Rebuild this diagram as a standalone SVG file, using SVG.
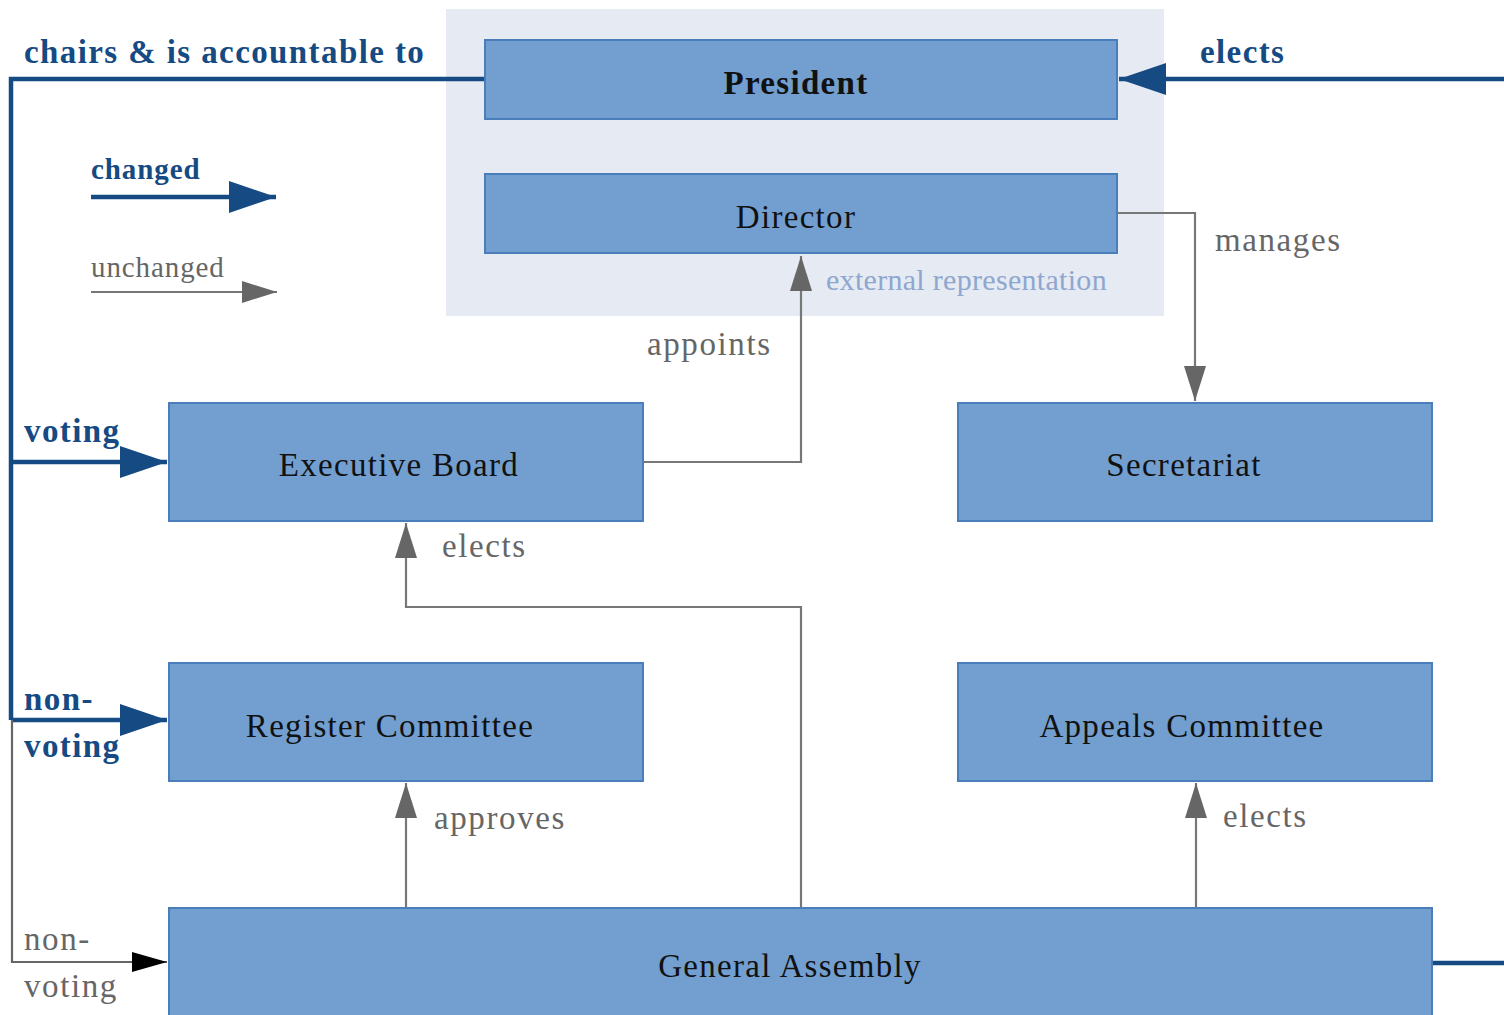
<svg xmlns="http://www.w3.org/2000/svg" width="1504" height="1015" viewBox="0 0 1504 1015">
<defs>
<marker id="ab" markerUnits="userSpaceOnUse" markerWidth="48" markerHeight="32" refX="47" refY="16" orient="auto"><path d="M0,0 L47,16 L0,32 Z" fill="#154a83"/></marker>
<marker id="ag" markerUnits="userSpaceOnUse" markerWidth="36" markerHeight="24" refX="35" refY="12" orient="auto"><path d="M0,1 L35,12 L0,23 Z" fill="#666666"/></marker>
<marker id="ak" markerUnits="userSpaceOnUse" markerWidth="36" markerHeight="24" refX="35" refY="11" orient="auto"><path d="M0,1 L35,11 L0,21 Z" fill="#000000"/></marker>
</defs>
<style>
.node{fill:#729fcf;stroke:#4a7ebb;stroke-width:2}
.nt{font-family:"Liberation Serif","Times New Roman",serif;font-size:33px;letter-spacing:1.3px;fill:#111;text-anchor:middle}
.bl{fill:none;stroke:#154a83;stroke-width:4.5}
.gl{fill:none;stroke:#777;stroke-width:2.2}
.lb{font-family:"Liberation Serif","Times New Roman",serif;font-size:33px;letter-spacing:1.4px;font-weight:bold;fill:#154a83}
.lg{font-family:"Liberation Serif","Times New Roman",serif;font-size:33px;letter-spacing:1.6px;fill:#666}
</style>
<rect width="1504" height="1015" fill="#ffffff"/>
<rect x="446" y="9" width="718" height="307" fill="#e6eaf3"/>
<g id="connectors">
<path class="bl" d="M485,79 H11 V720"/>
<path class="bl" d="M11,462 H167" marker-end="url(#ab)"/>
<path class="bl" d="M11,720 H167" marker-end="url(#ab)"/>
<path class="bl" d="M1504,79 H1119" marker-end="url(#ab)"/>
<path class="bl" d="M1432,963 H1504"/>
<path d="M12,720 V962 H167" fill="none" stroke="#666" stroke-width="2.2" marker-end="url(#ak)"/>
<path class="gl" d="M1117,213 H1195 V401" marker-end="url(#ag)"/>
<path class="gl" d="M643,462 H801 V256" marker-end="url(#ag)"/>
<path class="gl" d="M801,908 V607 H406 V523" marker-end="url(#ag)"/>
<path class="gl" d="M406,908 V783" marker-end="url(#ag)"/>
<path class="gl" d="M1196,908 V783" marker-end="url(#ag)"/>
<path class="bl" d="M91,197 H276" marker-end="url(#ab)"/>
<path class="gl" d="M91,292 H277" marker-end="url(#ag)"/>
</g>
<g id="labels">
<text class="lb" x="24" y="63">chairs &amp; is accountable to</text>
<text class="lb" x="1200" y="63">elects</text>
<text class="lb" x="91" y="179" style="font-size:29px;letter-spacing:0.9px">changed</text>
<text class="lg" x="91" y="277" style="font-size:29px;letter-spacing:0.9px">unchanged</text>
<text class="lg" x="1215" y="251">manages</text>
<text x="826" y="290" font-family="Liberation Serif, Times New Roman, serif" font-size="30" letter-spacing="0.3" fill="#8ea7cf">external representation</text>
<text class="lg" x="647" y="355">appoints</text>
<text class="lb" x="24" y="442">voting</text>
<text class="lg" x="442" y="557">elects</text>
<text class="lb" x="24" y="710">non-</text>
<text class="lb" x="24" y="757">voting</text>
<text class="lg" x="434" y="829">approves</text>
<text class="lg" x="1223" y="827">elects</text>
<text class="lg" x="24" y="950">non-</text>
<text class="lg" x="24" y="997">voting</text>
</g>
<g id="president"><rect class="node" x="485" y="40" width="632" height="79"/><text class="nt" x="796" y="94" font-weight="bold">President</text></g>
<g id="director"><rect class="node" x="485" y="174" width="632" height="79"/><text class="nt" x="796" y="228">Director</text></g>
<g id="executive-board"><rect class="node" x="169" y="403" width="474" height="118"/><text class="nt" x="399" y="476">Executive Board</text></g>
<g id="secretariat"><rect class="node" x="958" y="403" width="474" height="118"/><text class="nt" x="1184" y="476">Secretariat</text></g>
<g id="register-committee"><rect class="node" x="169" y="663" width="474" height="118"/><text class="nt" x="390" y="737">Register Committee</text></g>
<g id="appeals-committee"><rect class="node" x="958" y="663" width="474" height="118"/><text class="nt" x="1182" y="737">Appeals Committee</text></g>
<g id="general-assembly"><rect class="node" x="169" y="908" width="1263" height="120"/><text class="nt" x="790" y="977">General Assembly</text></g>
</svg>
